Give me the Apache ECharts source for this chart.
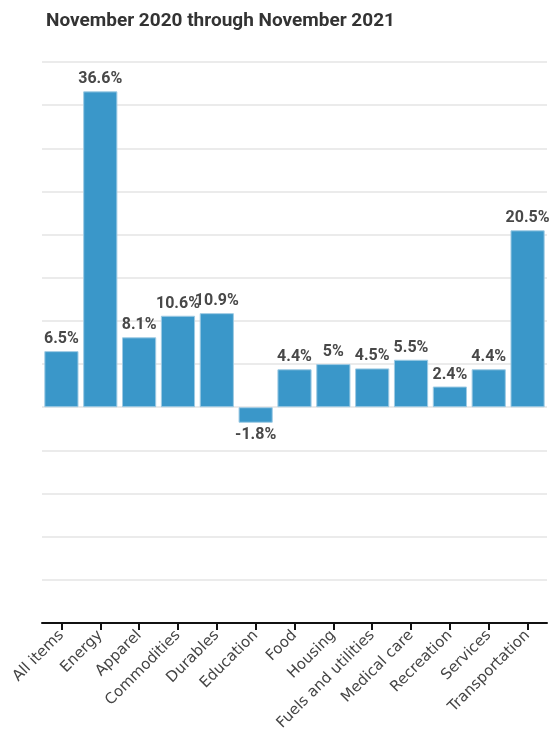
<!DOCTYPE html>
<html><head><meta charset="utf-8">
<script src="https://cdn.jsdelivr.net/npm/echarts@6/dist/echarts.min.js"></script>
<style>html,body{margin:0;padding:0;background:#fff}#c{width:550px;height:751px}</style>
</head><body><div id="c"></div>
<script>
const categories = ["All items","Energy","Apparel","Commodities","Durables","Education","Food","Housing","Fuels and utilities","Medical care","Recreation","Services","Transportation"];
const values = [6.5, 36.6, 8.1, 10.6, 10.9, -1.8, 4.4, 5, 4.5, 5.5, 2.4, 4.4, 20.5];
const titleText = "November 2020 through November 2021";

const chart = echarts.init(document.getElementById('c'));
chart.setOption({
  animation: false,
  title: {
    text: titleText, left: 41, top: 7,
    textStyle: {fontFamily: 'Roboto', fontWeight: 'bold', fontSize: 19, color: '#333'}
  },
  grid: {left: 42, right: 3, top: 62, bottom: 128, containLabel: false},
  xAxis: {
    type: 'category', data: categories,
    axisLine: {onZero: false, lineStyle: {color: '#111', width: 2}},
    axisTick: {show: true, alignWithLabel: true, length: 7, lineStyle: {color: '#111', width: 2}},
    axisLabel: {rotate: 45, interval: 0, fontFamily: 'DejaVu Sans', fontSize: 15, color: '#444', margin: 10}
  },
  yAxis: {
    type: 'value', min: -25, max: 40, interval: 5,
    axisLabel: {show: false}, axisLine: {show: false}, axisTick: {show: false},
    splitLine: {lineStyle: {color: '#ebebeb', width: 2}}
  },
  series: [{
    type: 'bar',
    data: values.map(v => ({
      value: v,
      label: {position: v < 0 ? 'bottom' : 'top'}
    })),
    barCategoryGap: '12%',
    itemStyle: {color: '#3a97c9', borderColor: '#9fcbe4', borderWidth: 1},
    label: {
      show: true, formatter: p => p.value + '%', distance: 4,
      fontFamily: 'Roboto', fontWeight: 'bold', fontSize: 16, color: '#484848'
    }
  }]
});
</script></body></html>
